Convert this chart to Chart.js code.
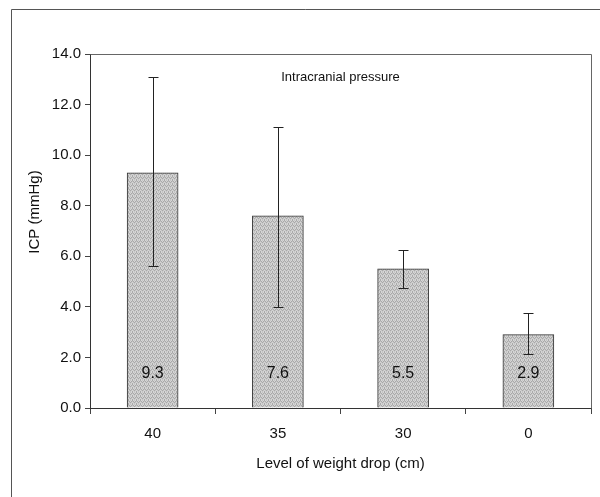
<!DOCTYPE html>
<html>
<head>
<meta charset="utf-8">
<script src="https://cdn.jsdelivr.net/npm/chart.js@4/dist/chart.umd.min.js"></script>
<style>
  html, body { margin: 0; padding: 0; background: #ffffff; }
  #wrap { width: 600px; height: 497px; position: relative; }
</style>
</head>
<body>
<div id="wrap"><canvas id="c" width="600" height="497"></canvas></div>
<script>
// ---- data ----
const categories = ["40", "35", "30", "0"];
const meanICP = [9.3, 7.6, 5.5, 2.9];
const errUpper = [13.1, 11.1, 6.25, 3.75];
const errLower = [5.6, 4.0, 4.75, 2.15];
const valueLabels = ["9.3", "7.6", "5.5", "2.9"];
const yTicks = [0, 2, 4, 6, 8, 10, 12, 14];

const FONT = "'Liberation Sans', Arial, sans-serif";

// stipple pattern (fixed tile, deterministic)
function makePattern() {
  const t = document.createElement('canvas');
  t.width = 4; t.height = 4;
  const g = t.getContext('2d');
  const tile = [
    [0,1,2,1],
    [2,0,1,0],
    [1,2,0,2],
    [0,1,2,1]
  ];
  const cols = ['#a9a9a9', '#d6d6d6', '#c4c4c4'];
  for (let y = 0; y < 4; y++) for (let x = 0; x < 4; x++) {
    g.fillStyle = cols[tile[y][x]];
    g.fillRect(x, y, 1, 1);
  }
  return document.getElementById('c').getContext('2d').createPattern(t, 'repeat');
}

const decorPlugin = {
  id: 'decor',
  beforeDraw(chart) {
    const ctx = chart.ctx;
    ctx.save();
    ctx.fillStyle = '#ffffff';
    ctx.fillRect(0, 0, chart.width, chart.height);
    // outer frame (top & left edges)
    ctx.strokeStyle = '#555555';
    ctx.lineWidth = 1;
    ctx.beginPath();
    ctx.moveTo(11.5, 497);
    ctx.lineTo(11.5, 9.5);
    ctx.lineTo(600, 9.5);
    ctx.stroke();
    ctx.restore();
  },
  afterDatasetsDraw(chart) {
    const ctx = chart.ctx;
    const area = chart.chartArea;
    const ys = chart.scales.y;
    const meta = chart.getDatasetMeta(0);
    ctx.save();
    // plot box top/right
    ctx.strokeStyle = '#666666';
    ctx.lineWidth = 1;
    ctx.beginPath();
    ctx.moveTo(Math.round(area.left) + 0.5, Math.round(area.top) + 0.5);
    ctx.lineTo(Math.round(area.right) + 0.5, Math.round(area.top) + 0.5);
    ctx.lineTo(Math.round(area.right) + 0.5, Math.round(area.bottom) + 0.5);
    ctx.stroke();
    // error bars
    ctx.strokeStyle = '#222222';
    meta.data.forEach((bar, i) => {
      const x = Math.round(bar.x) + 0.5;
      const yt = Math.round(ys.getPixelForValue(errUpper[i])) + 0.5;
      const yb = Math.round(ys.getPixelForValue(errLower[i])) + 0.5;
      ctx.beginPath();
      ctx.moveTo(x, yt); ctx.lineTo(x, yb);
      ctx.moveTo(x - 5, yt); ctx.lineTo(x + 5, yt);
      ctx.moveTo(x - 5, yb); ctx.lineTo(x + 5, yb);
      ctx.stroke();
      // value label
      ctx.fillStyle = '#111111';
      ctx.font = '16px ' + FONT;
      ctx.textAlign = 'center';
      ctx.textBaseline = 'middle';
      ctx.fillText(valueLabels[i], bar.x, ys.getPixelForValue(1.35));
    });
    // inner title
    ctx.fillStyle = '#111111';
    ctx.font = '13px ' + FONT;
    ctx.textAlign = 'center';
    ctx.textBaseline = 'middle';
    ctx.fillText('Intracranial pressure', (area.left + area.right) / 2, 77);
    // y axis title
    ctx.save();
    ctx.translate(35, 212);
    ctx.rotate(-Math.PI / 2);
    ctx.font = '15px ' + FONT;
    ctx.fillText('ICP (mmHg)', 0, 0);
    ctx.restore();
    ctx.restore();
  }
};

new Chart(document.getElementById('c'), {
  type: 'bar',
  data: {
    labels: categories,
    datasets: [{
      data: meanICP,
      backgroundColor: makePattern(),
      borderColor: '#333333',
      borderWidth: 1,
      borderSkipped: 'bottom',
      barThickness: 51
    }]
  },
  options: {
    responsive: false,
    animation: false,
    events: [],
    layout: { padding: { left: 0, right: 9, top: 54, bottom: 20 } },
    plugins: { legend: { display: false }, tooltip: { enabled: false }, title: { display: false } },
    scales: {
      x: {
        grid: { offset: true, drawOnChartArea: false, drawTicks: true, tickLength: 6, color: '#444444' },
        border: { color: '#333333', width: 1 },
        ticks: { color: '#111111', font: { family: FONT, size: 15 }, padding: 11, maxRotation: 0 },
        title: { display: true, text: 'Level of weight drop (cm)', color: '#111111', font: { family: FONT, size: 15 }, padding: { top: 6, bottom: 4 } },
        afterFit(s) { s.height = 69; }
      },
      y: {
        min: 0, max: 14,
        afterBuildTicks(s) { s.ticks = yTicks.map(v => ({ value: v })); },
        grid: { drawOnChartArea: false, drawTicks: true, tickLength: 5, color: '#444444' },
        border: { color: '#333333', width: 1 },
        ticks: { color: '#111111', font: { family: FONT, size: 15 }, padding: 4, callback: v => Number(v).toFixed(1) },
        afterFit(s) { s.width = 90; }
      }
    }
  },
  plugins: [decorPlugin]
});
</script>
</body>
</html>
